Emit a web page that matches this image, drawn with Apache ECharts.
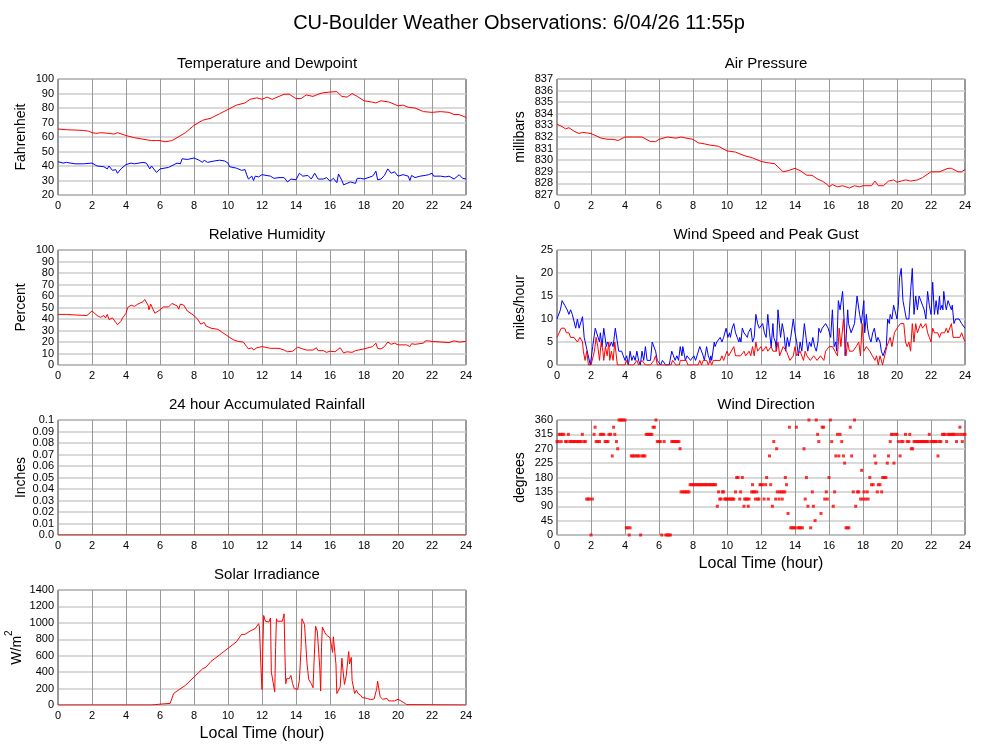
<!DOCTYPE html>
<html>
<head>
<meta charset="utf-8">
<script src="https://cdn.jsdelivr.net/npm/echarts@6/dist/echarts.min.js"></script>
<style>
  html, body { margin: 0; padding: 0; background: #fff; }
  #main { width: 1000px; height: 745px; }
</style>
</head>
<body>
<div id="main"></div>
<script>
// hour of day, value
const hourTicks = [0, 2, 4, 6, 8, 10, 12, 14, 16, 18, 20, 22, 24];

const temperature = [
  [0,65.5],[0.5,65],[1,64.8],[1.5,64.5],[1.8,64],[2,63],[2.3,62.5],[2.5,63],[3,62.5],[3.3,62],[3.5,63],[3.6,63.3],
  [4,61],[4.5,59.5],[5,58.5],[5.5,57.5],[5.8,57.6],[6,57.5],[6.3,56.7],[6.7,57.5],[7,59.5],[7.5,63],[8,68],[8.5,71.5],
  [9,73],[9.5,76],[10,79],[10.5,82],[11,83.5],[11.3,86],[11.7,87],[12,86],[12.3,87.5],[12.6,86],[13,88],[13.3,89.5],
  [13.6,89.5],[14,86.5],[14.3,86.5],[14.6,89],[15,88],[15.3,89.5],[15.6,90.5],[16,91],[16.4,91.3],[16.7,88],[17,87.5],
  [17.3,90],[17.6,88],[18,85],[18.5,84],[18.7,83.5],[19,85],[19.5,84],[20,81.5],[20.3,82],[20.6,80.5],[21,80],
  [21.5,77.5],[22,77],[22.5,77.5],[23,77],[23.3,75.5],[23.6,75.5],[23.7,76],[24,73.5]
];

const dewpoint = [
  [0,43],[0.3,42],[0.5,42.5],[1,41.5],[1.5,41.5],[2,42],[2.3,40],[2.7,39.5],[2.9,38],[3,40],[3.2,37],[3.4,37.5],[3.5,35],
  [3.7,38],[4,41],[4.3,42],[4.5,41.5],[5,42.5],[5.2,42],[5.4,38],[5.5,40],[5.8,35.5],[6,38],[6.5,39],[7,42],[7.2,41.5],
  [7.3,45],[7.6,44.5],[8,45.5],[8.3,44],[8.5,42.5],[8.6,44],[8.8,42.5],[9.2,43.5],[9.5,44],[9.8,43.5],[10,42],[10.1,39.5],
  [10.5,38.5],[10.8,37],[11,37.5],[11.1,34],[11.2,31],[11.4,33],[11.5,30],[11.6,33],[11.8,32.5],[12,34],[12.5,33],
  [12.7,31.5],[13,32],[13.3,32],[13.5,29],[13.7,31],[14,30.5],[14.2,35],[14.4,33],[14.7,33.5],[14.9,31],[15.1,35],
  [15.3,31],[15.6,31],[15.8,32],[16,29.5],[16.2,31.5],[16.4,28.5],[16.5,34.5],[16.7,30],[16.8,27],[17,28],[17.2,29],
  [17.5,28],[17.6,31.5],[17.8,31.5],[18,31],[18.5,33],[18.6,34.5],[18.7,36.5],[18.8,30.5],[19,31],[19.2,33.5],[19.4,38],
  [19.6,35],[19.8,36],[20,33],[20.3,34],[20.6,33],[20.7,30],[20.8,33.5],[21,32],[21.3,33],[21.6,33.5],[21.8,34],[22,35],
  [22.1,33],[22.5,33],[22.8,32.5],[23,33],[23.3,31],[23.6,34],[23.8,31.5],[24,31]
];

const pressure = [
  [0,833.1],[0.3,832.9],[0.5,832.7],[0.7,832.8],[1,832.5],[1.3,832.3],[1.5,832.4],[2,832.3],[2.3,832.1],[2.6,831.9],
  [3,831.8],[3.3,831.8],[3.6,831.7],[4,832],[4.5,832],[5,832],[5.5,831.6],[5.8,831.6],[6,831.8],[6.5,832],[7,831.9],
  [7.3,832],[7.6,831.9],[8,831.8],[8.3,831.5],[8.7,831.4],[9,831.3],[9.5,831.2],[10,830.8],[10.5,830.7],[11,830.4],
  [11.5,830.2],[12,829.9],[12.3,829.8],[12.8,829.7],[13.3,829],[13.6,829.1],[14,829.3],[14.3,829.1],[14.7,828.7],
  [15,828.7],[15.3,828.4],[15.6,828.2],[15.9,827.9],[16,827.7],[16.2,827.9],[16.5,827.7],[16.8,827.8],[17.2,827.6],
  [17.5,827.8],[17.8,827.7],[18,827.8],[18.5,827.8],[18.7,828.2],[18.9,827.8],[19.2,827.8],[19.5,828.2],[19.8,828.3],
  [20,828.1],[20.5,828.3],[20.8,828.2],[21.2,828.3],[21.5,828.5],[22,829],[22.5,829],[23,829.3],[23.2,829.3],
  [23.6,829],[23.8,829],[24,829.2]
];

const humidity = [
  [0,44],[0.5,44],[1,43.5],[1.7,43],[2,47],[2.3,43],[2.5,41.5],[2.7,43],[2.8,41],[2.9,44],[3,39.5],[3.2,41],[3.4,37],
  [3.5,35],[3.7,38],[3.8,41],[4,45],[4.1,50],[4.3,52],[4.5,51],[4.7,53],[5,55],[5.1,57],[5.3,52],[5.35,48],[5.45,53],
  [5.5,52],[5.7,45],[5.8,44],[6,48],[6.2,50.5],[6.5,50.5],[6.7,53.5],[6.8,54.5],[7,51.5],[7.1,48.5],[7.2,53],[7.4,52],
  [7.6,47],[8,43],[8.2,40],[8.4,35.5],[8.6,37],[8.7,34],[9,32],[9.4,31],[9.7,28],[10,25],[10.3,22],[10.6,20.5],[10.9,20],
  [11.1,16],[11.2,14],[11.4,15],[11.5,13],[11.7,15],[12,16],[12.5,14.5],[13,14.5],[13.3,13],[13.5,11.5],[13.8,12],
  [14.1,15.5],[14.3,14.5],[14.6,13],[15,13],[15.2,15],[15.3,12.5],[15.6,12.5],[15.8,11],[16,12],[16.3,11.5],[16.4,10.5],
  [16.6,15],[16.8,10.5],[17,11.5],[17.3,11],[17.5,12.5],[18,14],[18.5,16],[18.7,19],[18.8,14.5],[19,14],[19.2,16],
  [19.4,20],[19.6,18],[19.8,19],[20,17.5],[20.5,17.5],[20.7,16],[20.8,18.5],[21,18],[21.5,19],[21.6,21],[21.8,21],
  [21.9,22],[22,20.5],[22.5,20],[23,19.5],[23.3,21],[23.4,22],[23.6,20],[23.7,21.5],[24,20.5]
];

const windGust = [
  [0,10],[0.1,10],[0.2,12],[0.3,14],[0.45,13],[0.6,12],[0.7,11],[0.8,12],[0.9,11],[1.0,11],[1.1,8],[1.2,10],[1.3,8],
  [1.4,8],[1.5,10.5],[1.6,6],[1.7,6],[1.96,0],[2.1,4],[2.25,8],[2.35,8],[2.5,5],[2.55,7],[2.65,4],[2.75,8],[2.9,4],
  [2.97,5],[3.1,4],[3.2,5],[3.3,4],[3.43,8],[3.53,8],[3.63,3],[3.8,3],[3.9,2],[4.0,1],[4.1,2],[4.2,0],[4.3,3],[4.4,1],
  [4.5,2],[4.6,1],[4.7,3],[4.8,1],[4.9,0],[5.0,3],[5.1,1],[5.2,4],[5.3,1],[5.4,1],[5.5,1],[5.6,5],[5.7,5],[5.8,3],
  [5.9,1],[6.0,1],[6.1,0],[6.2,1],[6.3,1],[6.4,0],[6.6,0],[6.65,1],[6.75,3],[6.85,2],[6.95,1],[7.05,2],[7.15,1],[7.25,4],
  [7.35,2],[7.4,4],[7.5,2],[7.55,1],[7.65,2],[7.75,2],[7.85,1],[7.95,1],[8.05,2],[8.15,1],[8.25,1],[8.4,4],[8.5,4],
  [8.6,2],[8.67,1],[8.8,4],[8.9,2],[9.0,1],[9.05,2],[9.1,1],[9.25,5],[9.3,4],[9.4,5],[9.5,5],[9.6,6],[9.7,5],[9.8,6],
  [9.9,6],[9.95,8],[10.05,6],[10.15,7],[10.2,6],[10.3,8],[10.4,9],[10.5,7],[10.6,6],[10.7,5],[10.75,6],[10.82,5],[10.9,8],
  [11.0,7],[11.1,7],[11.2,6],[11.25,7],[11.4,8],[11.5,5],[11.6,6],[11.7,11],[11.8,9],[11.9,8],[12.0,8],[12.1,9],[12.2,7],
  [12.3,6],[12.4,11],[12.5,7],[12.6,4],[12.7,9],[12.75,6],[12.85,5],[12.9,3],[13.0,12],[13.1,8],[13.15,6],[13.25,9],
  [13.35,7],[13.45,3],[13.55,6],[13.65,4],[13.75,6],[13.9,10],[14.0,7],[14.1,5],[14.2,2],[14.3,5],[14.4,3],[14.55,9],
  [14.65,6],[14.75,3],[14.85,5],[14.95,4],[15.05,6],[15.15,4],[15.25,3],[15.35,5],[15.4,8],[15.5,7],[15.6,8],[15.7,8],
  [15.8,9],[15.9,9],[15.95,8],[16.1,6],[16.2,12],[16.3,4],[16.4,5],[16.45,3],[16.55,14],[16.65,12],[16.8,16],[16.9,9],
  [16.95,2],[17.1,12],[17.15,9],[17.3,7],[17.4,7],[17.5,9],[17.65,15],[17.8,11],[17.9,9],[18.05,14],[18.1,7],[18.2,11],
  [18.27,8],[18.37,6],[18.47,5],[18.57,7],[18.67,8],[18.8,5],[18.88,6],[19.0,5],[19.08,3],[19.18,2],[19.27,2],[19.37,4],
  [19.45,10],[19.55,9],[19.6,11],[19.7,10],[19.8,13],[19.9,13],[20.0,10],[20.08,13],[20.15,19],[20.25,21],[20.35,14],
  [20.45,12],[20.55,10],[20.7,10],[20.8,16],[20.9,21],[21.0,11],[21.1,15],[21.2,12],[21.3,15],[21.4,15],[21.5,13],
  [21.6,12],[21.7,10],[21.8,16],[21.9,13],[22.0,11],[22.1,18],[22.2,11],[22.3,14],[22.4,11],[22.5,15],[22.55,12],
  [22.65,13],[22.7,12],[22.75,16],[22.85,13],[22.9,12],[23.0,14],[23.1,13],[23.2,12],[23.25,13],[23.35,9],[23.45,10],
  [23.65,10],[23.8,9],[24,8]
];

const windSpeed = [
  [0,6],[0.1,6],[0.25,8],[0.45,8],[0.55,7],[0.7,7],[0.8,6],[1.0,6],[1.2,5],[1.35,6],[1.5,5],[1.55,3],[1.65,1],[1.75,3],
  [1.85,0],[2.0,0],[2.1,0],[2.2,3],[2.3,6],[2.4,4],[2.5,1],[2.6,5],[2.7,3],[2.75,1],[2.85,4],[2.95,2],[3.05,5],[3.1,1],
  [3.2,3],[3.3,1],[3.4,5],[3.5,5],[3.55,0],[3.8,0],[4.0,0],[4.1,1],[4.2,0],[4.5,0],[4.7,1],[4.8,0],[5.0,1],[5.2,0],
  [5.5,0],[5.7,1],[5.8,2],[5.9,0],[6.0,0],[6.5,0],[6.7,0],[6.8,1],[7.0,0],[7.2,0],[7.25,1],[7.6,1],[7.7,0],[8.0,0],
  [8.3,0],[8.4,1],[8.5,0],[8.6,1],[8.8,1],[8.9,0],[9.0,1],[9.1,0],[9.2,1],[9.6,1],[9.7,2],[9.8,1],[9.9,2],[10.0,3],
  [10.1,2],[10.2,2],[10.4,4],[10.5,2],[10.8,2],[11.0,3],[11.1,2],[11.3,3],[11.4,2],[11.5,4],[11.6,2],[11.7,5],[11.8,3],
  [12.0,4],[12.1,3],[12.3,4],[12.4,3],[12.6,4],[12.7,3],[12.9,3],[13.0,5],[13.1,2],[13.3,4],[13.5,3],[13.6,2],[13.7,1],
  [13.9,2],[14.0,4],[14.1,2],[14.3,3],[14.5,1],[14.6,3],[14.7,2],[14.9,1],[15.1,2],[15.3,1],[15.5,2],[15.7,1],[15.8,3],
  [16.0,4],[16.2,4],[16.35,3],[16.5,2],[16.6,8],[16.7,4],[16.85,10],[16.95,5],[17.0,2],[17.1,5],[17.2,3],[17.4,3],
  [17.6,4],[17.75,5],[17.85,2],[17.95,9],[18.05,3],[18.2,4],[18.4,3],[18.55,2],[18.7,1],[18.8,2],[18.9,0],[19.0,2],
  [19.15,0],[19.2,0],[19.4,4],[19.5,5],[19.6,6],[19.7,4],[19.85,7],[20.0,8],[20.2,9],[20.4,9],[20.5,5],[20.6,4],[20.7,5],
  [20.8,3],[20.9,9],[21.0,5],[21.1,9],[21.2,7],[21.4,9],[21.5,8],[21.7,9],[21.8,7],[21.9,6],[22.0,5],[22.1,8],[22.2,7],
  [22.4,7],[22.5,6],[22.6,7],[22.8,7],[22.9,8],[23.0,7],[23.2,9],[23.3,6],[23.5,6],[23.7,6],[23.8,7],[24.0,5]
];

const windDirection = [
  [0,292.5],[0.08,292.5],[0.12,315],[0.2,315],[0.25,292.5],[0.3,315],[0.4,315],[0.5,292.5],[0.58,292.5],[0.67,315],
  [0.75,292.5],[0.83,292.5],[0.92,292.5],[1.0,292.5],[1.08,292.5],[1.17,292.5],[1.25,292.5],[1.33,292.5],[1.42,292.5],
  [1.49,315],[1.58,292.5],[1.67,292.5],[1.75,112.5],[1.83,112.5],[1.92,112.5],[2.0,0],[2.08,112.5],[2.18,315],
  [2.24,337.5],[2.3,292.5],[2.4,292.5],[2.5,292.5],[2.55,315],[2.65,315],[2.75,315],[2.83,292.5],[2.92,292.5],
  [3.0,292.5],[3.06,315],[3.15,315],[3.25,247.5],[3.33,337.5],[3.4,315],[3.5,292.5],[3.57,270],[3.65,360],[3.73,360],
  [3.82,360],[3.9,360],[4.0,360],[4.08,22.5],[4.17,22.5],[4.25,0],[4.3,22.5],[4.37,247.5],[4.45,247.5],[4.55,247.5],
  [4.65,247.5],[4.75,247.5],[4.83,247.5],[4.92,0],[5.0,247.5],[5.08,247.5],[5.17,247.5],[5.25,315],[5.33,315],
  [5.42,315],[5.5,315],[5.58,315],[5.65,337.5],[5.73,337.5],[5.82,360],[5.9,292.5],[6.0,292.5],[6.08,292.5],[6.16,0],
  [6.3,292.5],[6.4,0],[6.5,0],[6.58,0],[6.67,0],[6.75,292.5],[6.83,292.5],[6.92,292.5],[7.0,292.5],[7.08,292.5],
  [7.17,292.5],[7.24,270],[7.3,135],[7.4,135],[7.5,135],[7.58,135],[7.67,135],[7.76,135],[7.83,157.5],[7.92,157.5],
  [8.0,157.5],[8.08,157.5],[8.17,157.5],[8.25,157.5],[8.33,157.5],[8.42,157.5],[8.5,157.5],[8.58,157.5],[8.67,157.5],
  [8.75,157.5],[8.83,157.5],[8.92,157.5],[9.0,157.5],[9.08,157.5],[9.17,157.5],[9.25,157.5],[9.33,157.5],[9.43,90],
  [9.5,135],[9.57,112.5],[9.65,112.5],[9.73,135],[9.8,135],[9.86,112.5],[9.93,112.5],[10.0,112.5],[10.08,112.5],
  [10.17,112.5],[10.25,112.5],[10.33,112.5],[10.4,112.5],[10.5,135],[10.57,180],[10.65,180],[10.75,112.5],[10.8,135],
  [10.9,180],[11.0,90],[11.04,112.5],[11.12,112.5],[11.2,112.5],[11.25,90],[11.3,112.5],[11.45,135],[11.5,157.5],
  [11.55,135],[11.62,135],[11.67,112.5],[11.75,135],[11.8,112.5],[11.88,112.5],[11.94,157.5],[12.0,157.5],[12.1,157.5],
  [12.18,112.5],[12.27,157.5],[12.33,180],[12.43,112.5],[12.5,247.5],[12.57,157.5],[12.67,90],[12.75,292.5],
  [12.86,112.5],[12.92,270],[12.96,135],[13.06,112.5],[13.1,135],[13.2,135],[13.25,112.5],[13.3,135],[13.4,135],
  [13.43,180],[13.5,157.5],[13.59,67.5],[13.67,337.5],[13.75,22.5],[13.83,22.5],[13.92,22.5],[14.0,22.5],[14.08,337.5],
  [14.17,22.5],[14.25,22.5],[14.33,22.5],[14.43,22.5],[14.53,270],[14.6,112.5],[14.67,180],[14.76,90],[14.82,360],
  [14.92,22.5],[15.02,135],[15.08,90],[15.18,45],[15.25,360],[15.33,315],[15.4,292.5],[15.53,67.5],[15.6,337.5],
  [15.68,337.5],[15.75,112.5],[15.84,135],[15.9,112.5],[16.0,180],[16.08,360],[16.16,292.5],[16.25,90],[16.33,135],
  [16.4,247.5],[16.5,315],[16.58,247.5],[16.65,315],[16.75,292.5],[16.85,247.5],[16.92,225],[17.0,22.5],[17.08,22.5],
  [17.17,22.5],[17.25,337.5],[17.33,247.5],[17.43,135],[17.5,360],[17.57,90],[17.67,135],[17.75,135],[17.86,112.5],
  [17.92,202.5],[18.0,112.5],[18.06,135],[18.15,112.5],[18.25,135],[18.3,112.5],[18.4,180],[18.5,157.5],[18.6,157.5],
  [18.69,247.5],[18.75,225],[18.84,135],[18.9,157.5],[19.0,157.5],[19.1,135],[19.16,180],[19.25,180],[19.35,180],
  [19.43,225],[19.5,247.5],[19.6,292.5],[19.67,315],[19.75,315],[19.82,225],[19.9,315],[20.0,315],[20.08,292.5],
  [20.18,247.5],[20.25,292.5],[20.35,292.5],[20.5,315],[20.6,292.5],[20.7,292.5],[20.75,315],[20.84,270],[20.92,270],
  [21.0,292.5],[21.08,292.5],[21.17,292.5],[21.25,292.5],[21.33,292.5],[21.42,292.5],[21.5,292.5],[21.58,292.5],
  [21.67,292.5],[21.75,292.5],[21.83,292.5],[21.9,315],[22.0,292.5],[22.08,292.5],[22.17,292.5],[22.25,292.5],
  [22.33,292.5],[22.41,247.5],[22.5,292.5],[22.58,292.5],[22.67,315],[22.75,315],[22.83,315],[22.92,292.5],[23.0,315],
  [23.08,315],[23.17,315],[23.25,315],[23.33,315],[23.42,315],[23.5,292.5],[23.58,315],[23.7,337.5],[23.75,315],
  [23.84,292.5],[23.92,315],[24.0,315]
];

// no rain all day: accumulated total stays at zero
const rainfall = [[0,0],[6,0],[12,0],[18,0],[24,0]];

const solar = [
  [0,0],[5.5,0],[5.6,5],[6,10],[6.6,20],[6.8,140],[7,170],[7.5,240],[8,340],[8.5,440],[8.7,460],[9,530],[9.5,610],
  [10,690],[10.5,770],[10.7,830],[10.8,860],[11,860],[11.3,900],[11.6,930],[11.8,990],[11.85,950],[11.95,400],[12.0,190],
  [12.05,700],[12.1,1090],[12.2,1020],[12.3,1000],[12.4,1010],[12.5,1060],[12.55,400],[12.6,380],[12.75,160],[12.8,700],
  [12.85,1050],[12.9,1020],[13.0,1030],[13.2,1020],[13.3,1110],[13.35,600],[13.4,260],[13.45,320],[13.6,320],[13.7,360],
  [13.8,260],[13.9,200],[14.0,180],[14.1,190],[14.2,300],[14.3,700],[14.35,1050],[14.5,980],[14.55,980],[14.65,500],
  [14.75,310],[14.9,260],[15.0,210],[15.1,210],[15.15,960],[15.25,900],[15.35,890],[15.4,450],[15.45,170],[15.5,700],
  [15.55,950],[15.7,880],[15.8,850],[16.0,820],[16.1,800],[16.15,640],[16.2,830],[16.3,830],[16.35,500],[16.4,140],
  [16.5,140],[16.6,220],[16.65,230],[16.7,570],[16.75,450],[16.85,250],[16.95,350],[17.05,550],[17.1,650],[17.15,500],
  [17.25,580],[17.3,300],[17.45,140],[17.55,180],[17.65,140],[17.8,120],[17.9,90],[18.0,85],[18.2,80],[18.4,65],
  [18.6,75],[18.75,200],[18.8,290],[18.9,290],[18.95,100],[19.1,70],[19.2,60],[19.35,80],[19.45,50],[19.6,50],
  [19.8,50],[19.9,40],[20.0,70],[20.1,70],[20.3,35],[20.5,5],[20.6,0],[24,0]
];

const panels = [
  { title: 'Temperature and Dewpoint', unit: 'Fahrenheit', min: 20, max: 100, step: 10, left: 58, top: 79, height: 116 },
  { title: 'Air Pressure', unit: 'millibars', min: 827, max: 837, step: 1, left: 557, top: 79, height: 116 },
  { title: 'Relative Humidity', unit: 'Percent', min: 0, max: 100, step: 10, left: 58, top: 250, height: 115 },
  { title: 'Wind Speed and Peak Gust', unit: 'miles/hour', min: 0, max: 25, step: 5, left: 557, top: 250, height: 115 },
  { title: '24 hour Accumulated Rainfall', unit: 'Inches', min: 0, max: 0.1, step: 0.01, left: 58, top: 420, height: 115 },
  { title: 'Wind Direction', unit: 'degrees', min: 0, max: 360, step: 45, left: 557, top: 420, height: 115, xname: true },
  { title: 'Solar Irradiance', unit: '{u|W/m}{s|2}', min: 0, max: 1400, step: 200, left: 58, top: 590, height: 115, xname: true }
];

const FONT = 'Liberation Sans, Arial, Helvetica, sans-serif';
const W = 408;

const chart = echarts.init(document.getElementById('main'));

const titles = [{
  text: 'CU-Boulder Weather Observations: 6/04/26 11:55p',
  left: 514, top: 8, textAlign: 'center',
  textStyle: { fontFamily: FONT, fontSize: 20, fontWeight: 'normal', color: '#000' }
}];
panels.forEach((p) => {
  titles.push({
    text: p.title,
    left: p.left + W / 2, top: p.top - 28, textAlign: 'center',
    textStyle: { fontFamily: FONT, fontSize: 15, fontWeight: 'normal', color: '#000' }
  });
});

const grids = panels.map((p) => ({
  left: p.left, top: p.top, width: W, height: p.height,
  show: true, borderColor: '#333', borderWidth: 1, backgroundColor: '#fff'
}));

const xAxes = panels.map((p, i) => ({
  type: 'value', gridIndex: i, min: 0, max: 24, interval: 2,
  name: p.xname ? 'Local Time (hour)' : '',
  nameLocation: 'middle', nameGap: 21,
  nameTextStyle: { fontFamily: FONT, fontSize: 16, color: '#000' },
  axisLine: { show: false }, axisTick: { show: false },
  axisLabel: {
    fontFamily: FONT, fontSize: 11, color: '#000', margin: 5,
    showMinLabel: true, showMaxLabel: true, hideOverlap: false
  },
  splitLine: { show: true, lineStyle: { color: '#999', width: 1 } }
}));

const yAxes = panels.map((p, i) => ({
  type: 'value', gridIndex: i, min: p.min, max: p.max, interval: p.step,
  name: p.unit, nameLocation: 'middle', nameGap: i === 6 ? 34 : 30,
  nameTextStyle: {
    fontFamily: FONT, fontSize: 14, color: '#000',
    rich: {
      u: { fontFamily: FONT, fontSize: 14, color: '#000', lineHeight: 20, verticalAlign: 'bottom' },
      s: { fontFamily: FONT, fontSize: 10, color: '#000', lineHeight: 12, verticalAlign: 'top' }
    }
  },
  axisLine: { show: false }, axisTick: { show: false },
  axisLabel: {
    fontFamily: FONT, fontSize: 11, color: '#000', margin: 4,
    showMinLabel: true, showMaxLabel: true, hideOverlap: false,
    formatter: (v) => {
      if (i !== 4) return String(v);
      if (v === 0) return '0.0';
      return String(Math.round(v * 100) / 100);
    }
  },
  splitLine: { show: true, lineStyle: { color: '#ccc', width: 1.5 } }
}));

function line(data, idx, color) {
  return {
    type: 'line', data: data, xAxisIndex: idx, yAxisIndex: idx,
    showSymbol: false, symbol: 'none', silent: true,
    lineStyle: { color: color, width: 1 }
  };
}

chart.setOption({
  animation: false,
  backgroundColor: '#fff',
  title: titles,
  grid: grids,
  xAxis: xAxes,
  yAxis: yAxes,
  series: [
    line(temperature, 0, '#ff0000'),
    line(dewpoint, 0, '#0000ff'),
    line(pressure, 1, '#ff0000'),
    line(humidity, 2, '#ff0000'),
    line(windGust, 3, '#0000ff'),
    line(windSpeed, 3, '#ff0000'),
    line(rainfall, 4, '#cc0000'),
    {
      type: 'scatter', data: windDirection, xAxisIndex: 5, yAxisIndex: 5,
      symbol: 'rect', symbolSize: 3, silent: true,
      itemStyle: { color: '#ff0000' }
    },
    line(solar, 6, '#ff0000')
  ]
});
</script>
</body>
</html>
